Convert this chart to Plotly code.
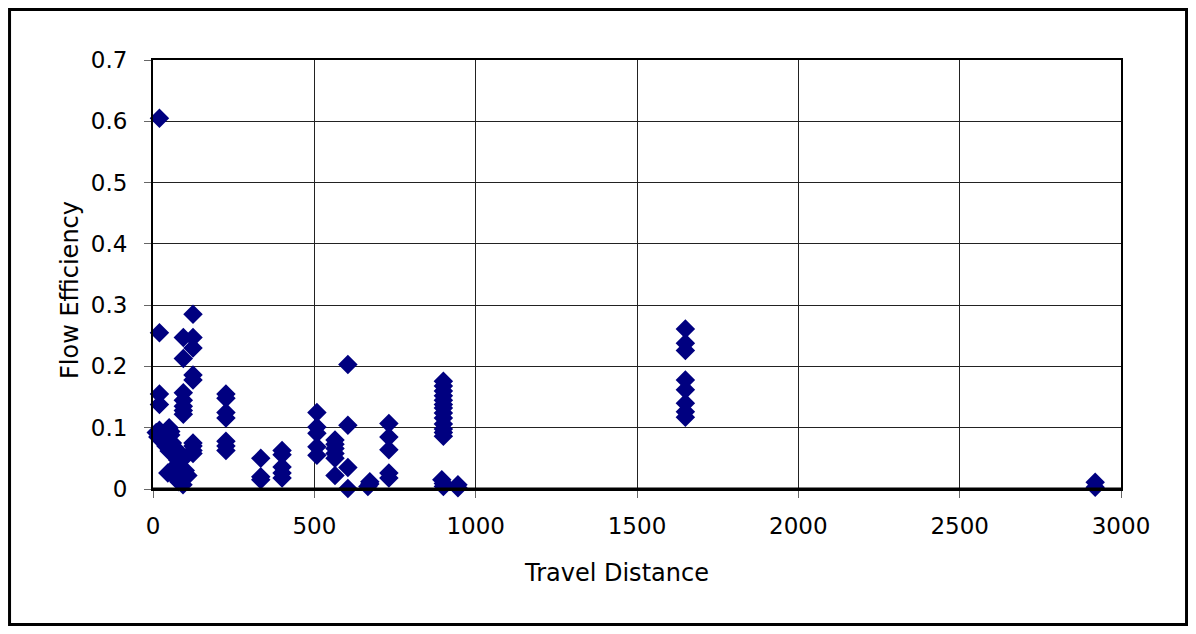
import plotly.graph_objects as go

# travel distance vs flow efficiency
distance = [
    20, 20, 20, 20, 20, 20, 10, 15,
    50, 55, 55, 45, 60, 40, 65, 50,
    94, 94, 94, 94, 94, 94, 94,
    124, 124, 124, 124, 124, 124, 124, 124, 124,
    77, 85, 59, 46, 90, 93, 68, 100, 108, 75, 80, 70, 95,
    226, 226, 226, 226, 226, 226, 226,
    334, 334, 334,
    400, 400, 400, 400, 400,
    508, 508, 508, 508, 508,
    564, 564, 564, 564, 564, 564,
    604, 604, 604, 604,
    666, 672, 672,
    731, 731, 731, 731, 731,
    900, 900, 900, 900, 900, 900, 900, 900, 900, 900, 900, 900, 900, 895, 900, 900,
    945, 945,
    1650, 1650, 1650, 1650, 1650, 1650, 1650, 1650,
    2920, 2920,
]
efficiency = [
    0.605, 0.255, 0.155, 0.138, 0.096, 0.088, 0.092, 0.085,
    0.1, 0.094, 0.088, 0.08, 0.075, 0.07, 0.068, 0.062,
    0.247, 0.213, 0.157, 0.145, 0.135, 0.128, 0.122,
    0.285, 0.247, 0.23, 0.186, 0.178, 0.075, 0.07, 0.063, 0.058,
    0.047, 0.058, 0.031, 0.026, 0.015, 0.007, 0.02, 0.03, 0.022, 0.04, 0.012, 0.035, 0.05,
    0.155, 0.148, 0.125, 0.116, 0.078, 0.07, 0.063,
    0.05, 0.02, 0.015,
    0.063, 0.056, 0.036, 0.026, 0.018,
    0.125, 0.101, 0.091, 0.069, 0.055,
    0.08, 0.073, 0.066, 0.058, 0.05, 0.022,
    0.203, 0.104, 0.035, 0.001,
    0.004, 0.012, 0.008,
    0.107, 0.085, 0.064, 0.026, 0.018,
    0.176, 0.168, 0.16, 0.152, 0.145, 0.138, 0.132, 0.124, 0.116, 0.106, 0.098, 0.092, 0.086, 0.015, 0.009, 0.004,
    0.007, 0.002,
    0.261, 0.238, 0.226, 0.178, 0.162, 0.14, 0.126, 0.117,
    0.011, 0.003,
]

fig = go.Figure(go.Scatter(
    x=distance, y=efficiency,
    mode="markers",
    marker=dict(symbol="diamond", size=15, color="#000080",
                line=dict(width=0)),
    cliponaxis=False,
))

fnt = dict(family="DejaVu Sans, Verdana, sans-serif", size=23, color="black")
title_fnt = dict(family="DejaVu Sans, Verdana, sans-serif", size=24, color="black")

# the page adds an 8px body margin, so the figure is 16px smaller than the window
fig.update_layout(
    width=1180, height=618,
    margin=dict(l=145, r=67, t=52, b=137),
    paper_bgcolor="white", plot_bgcolor="white",
    showlegend=False,
    font=fnt,
    xaxis=dict(
        range=[0, 3000], dtick=500, tick0=0,
        showgrid=True, gridcolor="#222", gridwidth=1,
        showline=True, linecolor="black", linewidth=2, mirror=True,
        ticks="outside", ticklen=7, tickcolor="#666",
        ticklabelstandoff=8,
        zeroline=False,
        tickfont=fnt,
    ),
    yaxis=dict(
        range=[0, 0.7], dtick=0.1, tick0=0,
        showgrid=True, gridcolor="#222", gridwidth=1,
        showline=True, linecolor="black", linewidth=2, mirror=True,
        ticks="outside", ticklen=7, tickcolor="#666",
        ticklabelstandoff=12,
        zeroline=False,
        tickformat="~g",
        tickfont=fnt,
    ),
    # axis titles as annotations: the original sets them a little off-centre
    annotations=[
        dict(text="Travel Distance", xref="paper", yref="paper",
             x=0.4793, y=-0.1958, xanchor="center", yanchor="middle",
             showarrow=False, font=title_fnt),
        dict(text="Flow Efficiency", xref="paper", yref="paper",
             x=-0.0857, y=0.4639, xanchor="center", yanchor="middle",
             textangle=-90, showarrow=False, font=title_fnt),
    ],
    shapes=[
        # x axis line sits a bit heavier in the original
        dict(type="line", xref="paper", yref="paper", x0=0, x1=1, y0=0, y1=0,
             line=dict(color="black", width=3), layer="above"),
        # outer frame around the whole chart
        dict(type="rect", xref="paper", yref="paper",
             x0=-0.1482, x1=1.0677, y0=-0.3158, y1=1.1177,
             line=dict(color="black", width=3)),
    ],
)

fig.write_html("out.html")
